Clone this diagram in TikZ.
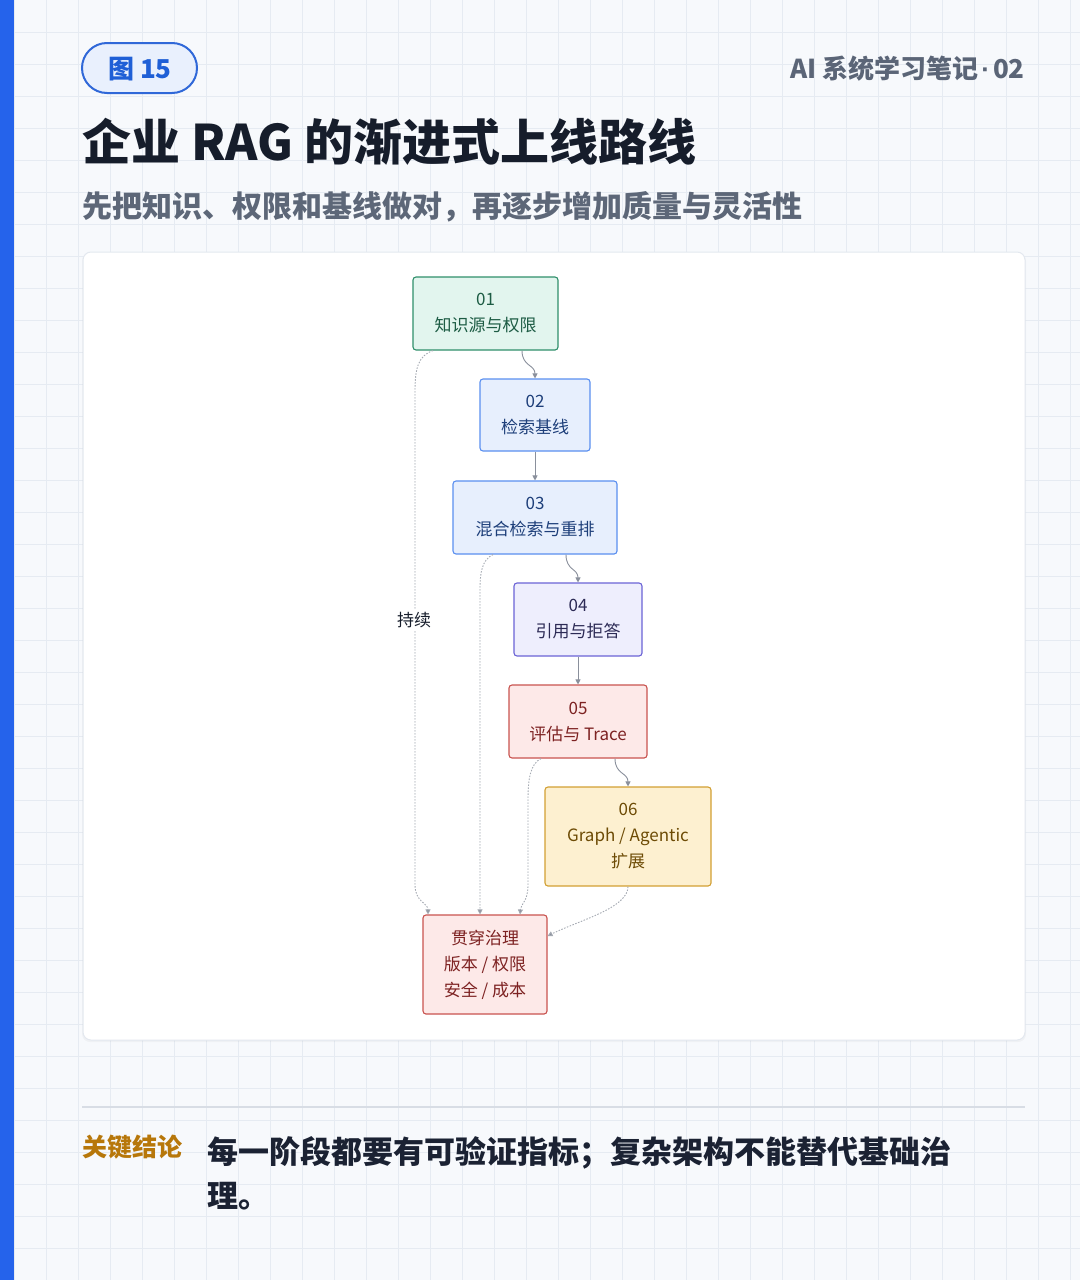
\documentclass[tikz,border=0pt]{standalone}
\usepackage{fontspec}
\setmainfont{Noto Sans CJK SC}
\newfontfamily\latinf{Liberation Sans}
\usetikzlibrary{arrows.meta}
\definecolor{bgc}{HTML}{F7F9FC}
\definecolor{gridc}{HTML}{E6EBF2}
\definecolor{barc}{HTML}{2563EB}
\definecolor{badgeb}{HTML}{3068D8}
\definecolor{badgef}{HTML}{E9F0FD}
\definecolor{badget}{HTML}{1F5FD6}
\definecolor{graytxt}{HTML}{5B6577}
\definecolor{titlec}{HTML}{161D2B}
\definecolor{subc}{HTML}{5D6778}
\definecolor{panelb}{HTML}{E3E8EF}
\definecolor{keyc}{HTML}{B7770A}
\definecolor{bodyc}{HTML}{1B2233}
\definecolor{sepc}{HTML}{D8DDE5}
\definecolor{edgec}{HTML}{8A909C}
\definecolor{dotc}{HTML}{A4A9B2}
\definecolor{gF}{HTML}{E2F5EE}\definecolor{gB}{HTML}{2F8F6B}\definecolor{gT}{HTML}{1D5C44}
\definecolor{bF}{HTML}{E7EFFD}\definecolor{bB}{HTML}{5A8FF0}\definecolor{bT}{HTML}{1E3F7A}
\definecolor{pF}{HTML}{EEEEFD}\definecolor{pB}{HTML}{6B63D6}\definecolor{pT}{HTML}{2C2A55}
\definecolor{rF}{HTML}{FDE9E8}\definecolor{rB}{HTML}{C9534F}\definecolor{rT}{HTML}{7D2222}
\definecolor{yF}{HTML}{FDF0D0}\definecolor{yB}{HTML}{D2A033}\definecolor{yT}{HTML}{6D4B05}
\tikzset{
  stage/.style={draw, rectangle, rounded corners=3pt, line width=1.1pt, align=center,
    inner sep=0pt, font=\fontsize{17}{26}\selectfont},
  gstage/.style={stage, fill=gF, draw=gB, text=gT},
  bstage/.style={stage, fill=bF, draw=bB, text=bT},
  pstage/.style={stage, fill=pF, draw=pB, text=pT},
  rstage/.style={stage, fill=rF, draw=rB, text=rT},
  ystage/.style={stage, fill=yF, draw=yB, text=yT},
  flow/.style={draw=edgec, line width=0.9pt, -{Triangle[length=5pt,width=5pt]}},
  keep/.style={draw=dotc, line width=0.9pt, dash pattern=on 1.5pt off 1.5pt, -{Triangle[length=5pt,width=5pt,fill=edgec]}},
  txt/.style={inner sep=0pt}
}
\begin{document}
\begin{tikzpicture}[x=1pt,y=-1pt]
\useasboundingbox (0,0) rectangle (1080,1280);
\fill[bgc] (0,0) rectangle (1080,1280);
\foreach \x in {14,46,...,1080} \draw[gridc, line width=0.8pt] (\x,0) -- (\x,1280);
\foreach \y in {32,64,...,1280} \draw[gridc, line width=0.8pt] (0,\y) -- (1080,\y);
\fill[barc] (0,0) rectangle (14,1280);

% header
\node[draw=badgeb, fill=badgef, line width=2pt, rounded corners=25pt, minimum width=115pt, minimum height=50pt, inner sep=0pt] (badge) at (139.5,68) {};
\node[txt, anchor=base, text=badget, font=\fontsize{26}{30}\selectfont\bfseries] (badgetxt) at (140,78) {图 15};
\node[txt, anchor=base east, text=graytxt, font=\fontsize{26}{30}\selectfont\bfseries] (series) at (1025,78) {AI 系统学习笔记\kern3pt{\latinf\bfseries ·}\kern3pt 02};
\node[txt, anchor=base west, text=titlec, font=\fontsize{49}{56}\selectfont\bfseries] (title) at (82,160) {企业 RAG 的渐进式上线路线};
\node[txt, anchor=base west, text=subc, font=\fontsize{30}{36}\selectfont\bfseries] (subtitle) at (82,217) {先把知识、权限和基线做对，再逐步增加质量与灵活性};

% panel
\fill[black, opacity=0.03, rounded corners=8pt] (82,253) rectangle (1026,1042);
\draw[fill=white, draw=panelb, line width=1pt, rounded corners=8pt] (83,252) rectangle (1025,1040);

% stages
\node[gstage, minimum width=145pt, minimum height=73pt] (n1) at (485.5,313.5) {01\\知识源与权限};
\node[bstage, minimum width=110pt, minimum height=72pt] (n2) at (535,415) {02\\检索基线};
\node[bstage, minimum width=164pt, minimum height=73pt] (n3) at (535,517.5) {03\\混合检索与重排};
\node[pstage, minimum width=128pt, minimum height=73pt] (n4) at (578,619.5) {04\\引用与拒答};
\node[rstage, minimum width=138pt, minimum height=73pt] (n5) at (578,721.5) {05\\评估与 Trace};
\node[ystage, minimum width=166pt, minimum height=99pt] (n6) at (628,836.5) {06\\Graph / Agentic\\扩展};
\node[rstage, minimum width=124pt, minimum height=99pt] (gov) at (485,964.5) {贯穿治理\\版本 / 权限\\安全 / 成本};

% main flow
\path[flow] ([xshift=36.5pt]n1.south) .. controls +(0,16) and +(0,-14) .. (n2.north);
\path[flow] (n2.south) -- (n3.north);
\path[flow] ([xshift=31pt]n3.south) .. controls +(0,16) and +(0,-14) .. (n4.north);
\path[flow] (n4.south) -- (n5.north);
\path[flow] ([xshift=37pt]n5.south) .. controls +(0,16) and +(0,-14) .. (n6.north);

% continuous governance
\coordinate (k1a) at (415,392);
\coordinate (k1b) at (415,885);
\path[keep] ([xshift=-52.5pt]n1.south) .. controls (418,356) and (415,368) .. (k1a) -- (k1b) .. controls (415,902) and (428,903) .. ([xshift=-57pt]gov.north);
\node[txt, fill=white, inner sep=3pt, font=\fontsize{17}{20}\selectfont, text=titlec] (keeplbl) at (414,620) {持续};

\coordinate (k3a) at (480,590);
\path[keep] ([xshift=-42pt]n3.south) .. controls (482,560) and (480,572) .. (k3a) -- ([xshift=-5pt]gov.north);

\coordinate (k5a) at (528,800);
\coordinate (k5b) at (528,885);
\path[keep] ([xshift=-37pt]n5.south) .. controls (530,764) and (528,780) .. (k5a) -- (k5b) .. controls (528,902) and (521,903) .. ([xshift=35pt]gov.north);

\path[keep] (n6.south) .. controls (628,908) and (580,920) .. ([yshift=28.5pt]gov.east);

% conclusion
\draw[sepc, line width=1.5pt] (82,1107) -- (1025,1107);
\node[txt, anchor=base west, text=keyc, font=\fontsize{25}{28}\selectfont\bfseries] (keylbl) at (82,1156) {关键结论};
\node[txt, anchor=base west, text=bodyc, font=\fontsize{31}{36}\selectfont\bfseries] (body1) at (207,1163) {每一阶段都要有可验证指标；复杂架构不能替代基础治};
\node[txt, anchor=base west, text=bodyc, font=\fontsize{31}{36}\selectfont\bfseries] (body2) at (207,1207) {理。};
\end{tikzpicture}
\end{document}
